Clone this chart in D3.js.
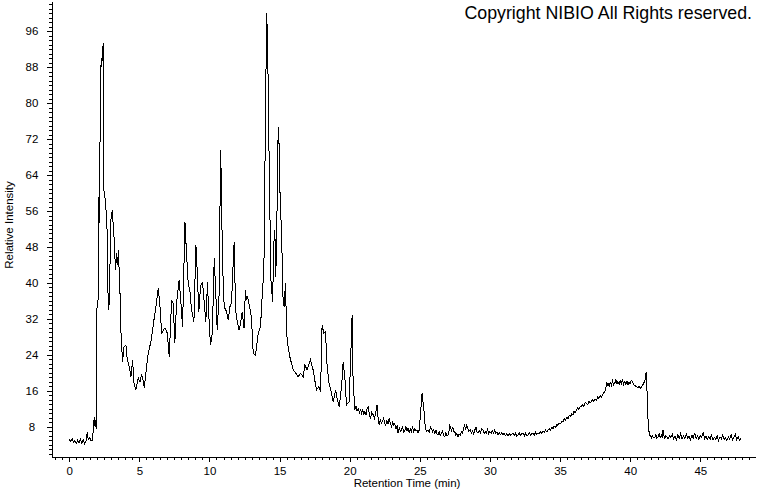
<!DOCTYPE html>
<html>
<head>
<meta charset="utf-8">
<script src="https://cdn.jsdelivr.net/npm/d3@7"></script>
<style>
  body { margin: 0; background: #fff; }
  svg { display: block; }
  text { font-family: "Liberation Sans", Arial, sans-serif; fill: #000; }
</style>
</head>
<body>
<div id="chart"></div>
<script>
// retention time (min) and relative intensity
var retention = [
  0.0, 0.1, 0.2, 0.3, 0.4, 0.5, 0.6, 0.7, 0.8, 0.9, 1.0, 1.1, 1.2, 1.28, 1.35, 1.45, 1.55, 1.65, 1.72, 1.78, 1.84, 1.9, 1.95,
  1.98, 2.05, 2.09, 2.12, 2.19, 2.24, 2.28, 2.32, 2.36, 2.43, 2.47, 2.59, 2.71, 2.78, 2.85, 2.97, 3.07, 3.14, 3.18, 3.3, 3.38,
  3.45, 3.5, 3.61, 3.69, 3.8, 3.9, 4.04, 4.14, 4.28, 4.4, 4.52, 4.61, 4.75, 4.92, 5.04, 5.15, 5.23, 5.35, 5.47, 5.63, 5.82,
  6.04, 6.18, 6.35, 6.47, 6.59, 6.82, 6.99, 7.13, 7.3, 7.41, 7.53, 7.65, 7.84, 7.95, 8.08, 8.25, 8.3, 8.48, 8.6, 8.72, 8.89,
  9.03, 9.1, 9.24, 9.36, 9.5, 9.63, 9.74, 9.86, 9.93, 10.07, 10.2, 10.34, 10.46, 10.55, 10.69, 10.79, 10.83, 10.93, 11.05,
  11.22, 11.34, 11.45, 11.57, 11.69, 11.76, 11.86, 11.98, 12.1, 12.22, 12.33, 12.47, 12.56, 12.64, 12.71, 12.81, 12.93, 13.0,
  13.12, 13.28, 13.47, 13.64, 13.78, 13.88, 13.95, 14.02, 14.07, 14.14, 14.26, 14.38, 14.5, 14.59, 14.66, 14.73, 14.83, 14.9,
  14.97, 15.04, 15.14, 15.25, 15.32, 15.42, 15.5, 15.61, 15.73, 15.85, 15.97, 16.16, 16.32, 16.49, 16.68, 16.8, 16.96, 17.2,
  17.39, 17.51, 17.63, 17.8, 17.92, 18.03, 18.15, 18.27, 18.39, 18.53, 18.7, 18.82, 18.99, 19.1, 19.25, 19.42, 19.53, 19.65,
  19.77, 19.96, 20.13, 20.17, 20.24, 20.36, 20.45, 20.52, 20.6, 20.7, 20.77, 20.84, 20.92, 21.0, 21.08, 21.16, 21.23, 21.31,
  21.4, 21.48, 21.57, 21.67, 21.76, 21.85, 21.95, 22.02, 22.1, 22.18, 22.26, 22.34, 22.42, 22.5, 22.57, 22.65, 22.73, 22.81,
  22.9, 22.98, 23.06, 23.14, 23.21, 23.3, 23.38, 23.45, 23.53, 23.61, 23.69, 23.77, 23.85, 23.93, 24.0, 24.08, 24.16, 24.24,
  24.32, 24.4, 24.48, 24.56, 24.64, 24.72, 24.8, 24.87, 24.95, 25.05, 25.12, 25.16, 25.22, 25.28, 25.34, 25.4, 25.48, 25.59,
  25.67, 25.75, 25.83, 25.91, 25.99, 26.07, 26.15, 26.22, 26.3, 26.38, 26.46, 26.54, 26.62, 26.7, 26.78, 26.86, 26.94, 27.01,
  27.08, 27.13, 27.18, 27.26, 27.32, 27.37, 27.45, 27.5, 27.56, 27.64, 27.73, 27.8, 27.88, 27.97, 28.05, 28.12, 28.2, 28.27,
  28.34, 28.42, 28.5, 28.58, 28.68, 28.76, 28.84, 28.92, 29.0, 29.08, 29.15, 29.24, 29.32, 29.42, 29.51, 29.59, 29.67, 29.75,
  29.83, 29.91, 29.99, 30.08, 30.17, 30.25, 30.34, 30.42, 30.5, 30.58, 30.67, 30.75, 30.84, 30.93, 31.02, 31.1, 31.2, 31.29,
  31.38, 31.47, 31.56, 31.65, 31.74, 31.82, 31.91, 32.0, 32.09, 32.18, 32.27, 32.36, 32.45, 32.54, 32.63, 32.72, 32.81, 32.9,
  32.98, 33.07, 33.16, 33.25, 33.34, 33.43, 33.52, 33.61, 33.7, 33.78, 33.87, 33.96, 34.05, 34.14, 34.23, 34.32, 34.41, 34.5,
  34.59, 34.68, 34.77, 34.85, 34.94, 35.03, 35.12, 35.21, 35.3, 35.39, 35.48, 35.57, 35.66, 35.75, 35.83, 35.92, 36.0, 36.08,
  36.17, 36.26, 36.35, 36.43, 36.52, 36.6, 36.7, 36.79, 36.88, 36.97, 37.05, 37.14, 37.23, 37.32, 37.41, 37.5, 37.59, 37.68,
  37.77, 37.86, 37.95, 38.03, 38.1, 38.18, 38.25, 38.32, 38.38, 38.42, 38.5, 38.58, 38.66, 38.74, 38.82, 38.9, 38.98, 39.05,
  39.13, 39.21, 39.29, 39.37, 39.45, 39.53, 39.61, 39.69, 39.77, 39.84, 39.92, 40.0, 40.08, 40.16, 40.24, 40.32, 40.44, 40.55,
  40.64, 40.73, 40.84, 40.96, 41.05, 41.12, 41.15, 41.2, 41.24, 41.3, 41.39, 41.45, 41.51, 41.58, 41.66, 41.75, 41.83, 41.9,
  41.98, 42.06, 42.14, 42.22, 42.28, 42.34, 42.4, 42.46, 42.54, 42.6, 42.7, 42.8, 42.9, 43.0, 43.1, 43.2, 43.3, 43.4, 43.5,
  43.6, 43.7, 43.8, 43.9, 44.0, 44.1, 44.2, 44.3, 44.4, 44.5, 44.6, 44.7, 44.8, 44.9, 45.0, 45.1, 45.2, 45.3, 45.4, 45.5,
  45.6, 45.7, 45.8, 45.9, 46.0, 46.1, 46.2, 46.3, 46.4, 46.5, 46.6, 46.7, 46.8, 46.9, 47.0, 47.1, 47.2, 47.3, 47.4, 47.5,
  47.6, 47.7, 47.8, 47.9
];
var intensity = [
  5.2, 4.8, 5.4, 4.6, 5.0, 4.3, 5.1, 4.5, 5.3, 4.4, 5.2, 4.2, 5.0, 6.8, 5.2, 5.6, 5.0, 5.1, 7.5, 10.2, 8.0, 9.5, 7.5,
  34.7, 35.0, 59.0, 52.7, 70.0, 85.8, 90.0, 88.0, 91.3, 93.3, 60.7, 58.0, 51.0, 34.0, 35.5, 54.0, 56.2, 52.4, 51.0, 42.9, 46.6,
  44.0, 47.3, 39.0, 28.9, 22.4, 25.8, 26.2, 22.9, 21.4, 19.1, 22.9, 17.8, 16.2, 18.9, 18.0, 19.5, 18.9, 16.7, 20.2, 24.4, 26.9,
  31.8, 34.7, 38.9, 34.7, 28.9, 30.0, 28.9, 23.6, 36.2, 35.5, 26.7, 35.5, 40.7, 36.2, 30.3, 53.6, 50.3, 40.0, 38.4, 34.0, 31.4,
  48.4, 44.4, 33.6, 39.2, 40.3, 35.5, 31.4, 40.3, 34.0, 26.2, 28.8, 45.5, 37.0, 29.6, 37.7, 69.6, 64.7, 44.4, 34.7,
  33.6, 31.8, 34.7, 35.5, 44.4, 49.2, 34.0, 31.4, 29.6, 31.0, 33.6, 29.9, 38.4, 36.2, 37.0, 35.5, 33.6, 31.8,
  24.4, 24.0, 28.8, 30.3, 38.4, 42.9, 64.4, 83.6, 99.9, 94.7, 65.8, 40.7, 35.8, 48.8, 51.8, 41.4, 58.4, 74.7,
  70.3, 58.4, 51.0, 36.2, 34.7, 39.9, 28.8, 25.8, 23.6, 22.1, 20.7, 19.9, 19.2, 19.9, 19.2, 21.8, 20.7, 22.9,
  20.7, 18.4, 16.2, 17.0, 15.8, 30.7, 28.8, 29.2, 21.4, 17.7, 15.5, 13.6, 16.2, 14.4, 12.5, 17.0, 22.5, 19.2,
  12.9, 13.6, 28.8, 32.9, 18.4, 11.8, 12.6, 11.5, 12.1, 11.2, 12.0, 11.0, 11.8, 10.9, 11.4, 10.6, 11.9, 12.5,
  10.8, 9.9, 11.2, 10.7, 10.0, 11.1, 12.9, 10.2, 8.4, 9.6, 8.9, 9.2, 10.1, 8.7, 8.4, 9.4, 8.6, 9.9,
  8.8, 8.1, 9.0, 8.3, 8.8, 7.6, 8.2, 6.6, 7.8, 7.0, 7.3, 8.0, 6.9, 7.2, 8.1, 7.1, 7.7, 6.8,
  7.6, 7.0, 7.9, 6.9, 7.7, 7.1, 7.4, 6.6, 7.3, 11.0, 14.0, 15.5, 13.6, 12.5, 9.5, 7.7, 7.0, 7.3,
  6.8, 8.0, 7.7, 6.9, 7.4, 6.6, 7.3, 6.5, 6.2, 7.0, 6.1, 6.6, 7.1, 6.0, 5.8, 6.7, 6.0, 6.2,
  7.0, 8.4, 8.1, 7.0, 7.9, 7.7, 6.8, 7.0, 6.2, 6.6, 5.8, 6.4, 6.1, 7.0, 6.6, 7.7, 8.4, 7.4,
  8.6, 7.6, 7.0, 7.4, 6.6, 7.1, 6.5, 7.3, 8.0, 6.9, 6.6, 7.2, 6.7, 7.6, 7.3, 6.6, 7.0, 6.6,
  7.5, 6.5, 7.0, 6.6, 7.1, 6.7, 7.3, 6.6, 6.9, 6.2, 6.8, 6.3, 6.7, 6.2, 6.6, 6.1, 6.5, 6.0,
  6.6, 6.1, 6.4, 6.6, 6.1, 6.6, 6.0, 6.2, 6.7, 6.1, 6.5, 6.6, 6.0, 6.6, 6.1, 6.2, 6.7, 6.2,
  6.6, 6.6, 6.2, 6.8, 6.4, 6.7, 6.5, 7.0, 6.6, 7.0, 6.8, 7.3, 6.9, 7.3, 7.6, 7.2, 7.9, 7.7,
  8.2, 7.9, 8.5, 8.4, 8.9, 8.7, 9.3, 9.2, 9.8, 9.5, 10.1, 9.9, 10.6, 10.3, 11.0, 10.7, 11.5, 11.2,
  11.8, 12.3, 11.9, 12.6, 12.5, 13.0, 12.6, 13.4, 13.3, 13.0, 13.7, 13.3, 13.6, 14.1, 13.7, 14.2, 14.0, 14.6,
  14.3, 15.0, 14.7, 15.2, 15.5, 15.8, 16.4, 17.9, 17.2, 17.7, 17.0, 17.9, 17.3, 18.2, 17.4, 17.7, 18.5, 17.6,
  18.1, 17.4, 18.3, 17.7, 18.6, 17.5, 18.1, 17.4, 18.2, 17.3, 18.0, 17.6, 18.4, 18.1, 17.5, 17.2, 17.0, 16.8,
  17.0, 16.6, 17.1, 17.7, 18.3, 19.9, 20.1, 16.0, 12.0, 7.7, 6.2, 6.0, 5.5, 6.1, 5.6, 5.7, 6.3, 5.5,
  5.8, 6.5, 5.6, 6.2, 5.8, 7.3, 6.0, 5.5, 6.1, 5.9, 5.3, 6.1, 5.6, 6.4, 5.4, 5.9, 5.2, 6.3, 5.5,
  6.6, 5.3, 6.0, 5.4, 6.5, 5.6, 5.9, 5.2, 6.2, 5.5, 6.7, 5.4, 6.0, 5.3, 6.1, 5.7, 6.8, 5.4, 6.0, 5.2,
  5.8, 5.3, 6.2, 5.1, 5.7, 5.3, 6.1, 5.0, 5.8, 5.4, 6.3, 5.2, 5.6, 5.0, 5.8, 5.3, 6.4, 5.1, 5.7, 6.3,
  5.2, 5.8, 5.0, 5.4
];
var xMajor = [0, 5, 10, 15, 20, 25, 30, 35, 40, 45];
var yMajor = [8, 16, 24, 32, 40, 48, 56, 64, 72, 80, 88, 96];

var w = 760, h = 492;
var svg = d3.select("#chart").append("svg")
    .attr("width", w)
    .attr("height", h);

var x = d3.scaleLinear().domain([-1.23, 48.9]).range([52, 755]);
var y = d3.scaleLinear().domain([1.33, 102.67]).range([457, 1]);

var xMinor = d3.range(-1, 48.6, 0.5);
var yMinor = d3.range(2, 103, 1);

// minor ticks first, then the labelled ones on top
svg.append("g")
    .attr("transform", "translate(0,457)")
    .call(d3.axisBottom(x).tickValues(xMinor).tickSize(3).tickSizeOuter(0).tickFormat(""))
    .call(function(g) { g.select(".domain").remove(); });
svg.append("g")
    .attr("transform", "translate(52,0)")
    .call(d3.axisLeft(y).tickValues(yMinor).tickSize(3).tickSizeOuter(0).tickFormat(""))
    .call(function(g) { g.select(".domain").remove(); });

var gx = svg.append("g")
    .attr("transform", "translate(0,457)")
    .call(d3.axisBottom(x).tickValues(xMajor).tickSize(5).tickSizeOuter(0).tickPadding(5));
var gy = svg.append("g")
    .attr("transform", "translate(52,0)")
    .call(d3.axisLeft(y).tickValues(yMajor).tickSize(5).tickSizeOuter(0));

// y labels sit centred in the margin
gy.selectAll(".tick text")
    .attr("x", -20)
    .attr("text-anchor", "middle");

svg.selectAll(".tick line, .domain")
    .attr("stroke", "#000")
    .attr("shape-rendering", "crispEdges");
svg.selectAll(".tick text")
    .style("font-family", "'Liberation Sans', Arial, sans-serif")
    .style("font-size", "11.5px")
    .attr("fill", "#000");

var line = d3.line()
    .x(function(d, i) { return x(retention[i]); })
    .y(function(d) { return y(d); });

svg.append("path")
    .datum(intensity)
    .attr("d", line)
    .attr("fill", "none")
    .attr("stroke", "#000")
    .attr("stroke-width", 1)
    .attr("shape-rendering", "crispEdges");

svg.append("text")
    .attr("x", 407)
    .attr("y", 487)
    .attr("text-anchor", "middle")
    .style("font-size", "11.5px")
    .text("Retention Time (min)");

svg.append("text")
    .attr("transform", "translate(13,225) rotate(-90)")
    .attr("text-anchor", "middle")
    .style("font-size", "11.5px")
    .text("Relative Intensity");

svg.append("text")
    .attr("x", 752)
    .attr("y", 19)
    .attr("text-anchor", "end")
    .style("font-size", "17.8px")
    .text("Copyright NIBIO All Rights reserved.");
</script>
</body>
</html>
